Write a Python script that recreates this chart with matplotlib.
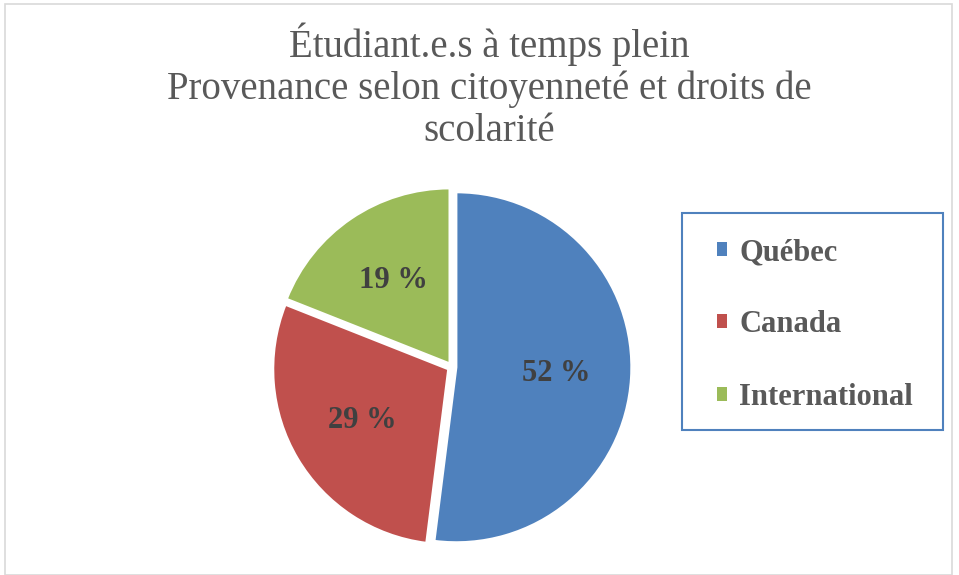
import matplotlib.pyplot as plt
from matplotlib.patches import Rectangle

plt.rcParams["font.family"] = "Liberation Serif"

# data
categories = ["Québec", "Canada", "International"]
shares = [52, 29, 19]
colors = ["#4F81BD", "#C0504D", "#9BBB59"]
title = "Étudiant.e.s à temps plein\nProvenance selon citoyenneté et droits de\nscolarité"

W, H = 959, 575
fig = plt.figure(figsize=(W / 100, H / 100), dpi=100)

# light frame around the whole chart
fig.patches.append(Rectangle((5 / W, 0), 947 / W, 1 - 4 / H, transform=fig.transFigure,
                             fill=False, edgecolor="#D9D9D9", linewidth=1.2))

fig.text(489 / W, 1 - 22 / H, title, ha="center", va="top", fontsize=28,
         color="#595959", linespacing=1.17)

# pie axes centred on the pie, radius ~175 px
cx, cy, r = 452, 367, 175
size = 2.2 * r
ax = fig.add_axes([(cx - size / 2) / W, 1 - (cy + size / 2) / H, size / W, size / H])
wedges, texts, autotexts = ax.pie(
    shares, colors=colors, startangle=90, counterclock=False,
    explode=[0.025] * 3, autopct=lambda p: f"{p:.0f} %", pctdistance=0.57,
    wedgeprops=dict(edgecolor="white", linewidth=1.5),
    textprops=dict(fontsize=22, fontweight="bold", color="#404040"))
ax.set_xlim(-1.1, 1.1)
ax.set_ylim(-1.1, 1.1)
ax.set_aspect("equal")

# legend box drawn separately so its size can match
fig.patches.append(Rectangle((682 / W, 1 - 430 / H), 261 / W, 217 / H,
                             transform=fig.transFigure, fill=False,
                             edgecolor="#4F81BD", linewidth=1.5))
leg = fig.legend(wedges, categories, loc="upper left",
                 bbox_to_anchor=(717 / W, 1 - 238 / H),
                 prop=dict(size=22, weight="bold"), labelcolor="#595959",
                 frameon=False, handlelength=0.33, handleheight=0.33,
                 handletextpad=0.4, labelspacing=1.42, borderpad=0,
                 borderaxespad=0)
for h in leg.legend_handles:
    h.set_edgecolor("none")

fig.savefig("out.png", dpi=100)
